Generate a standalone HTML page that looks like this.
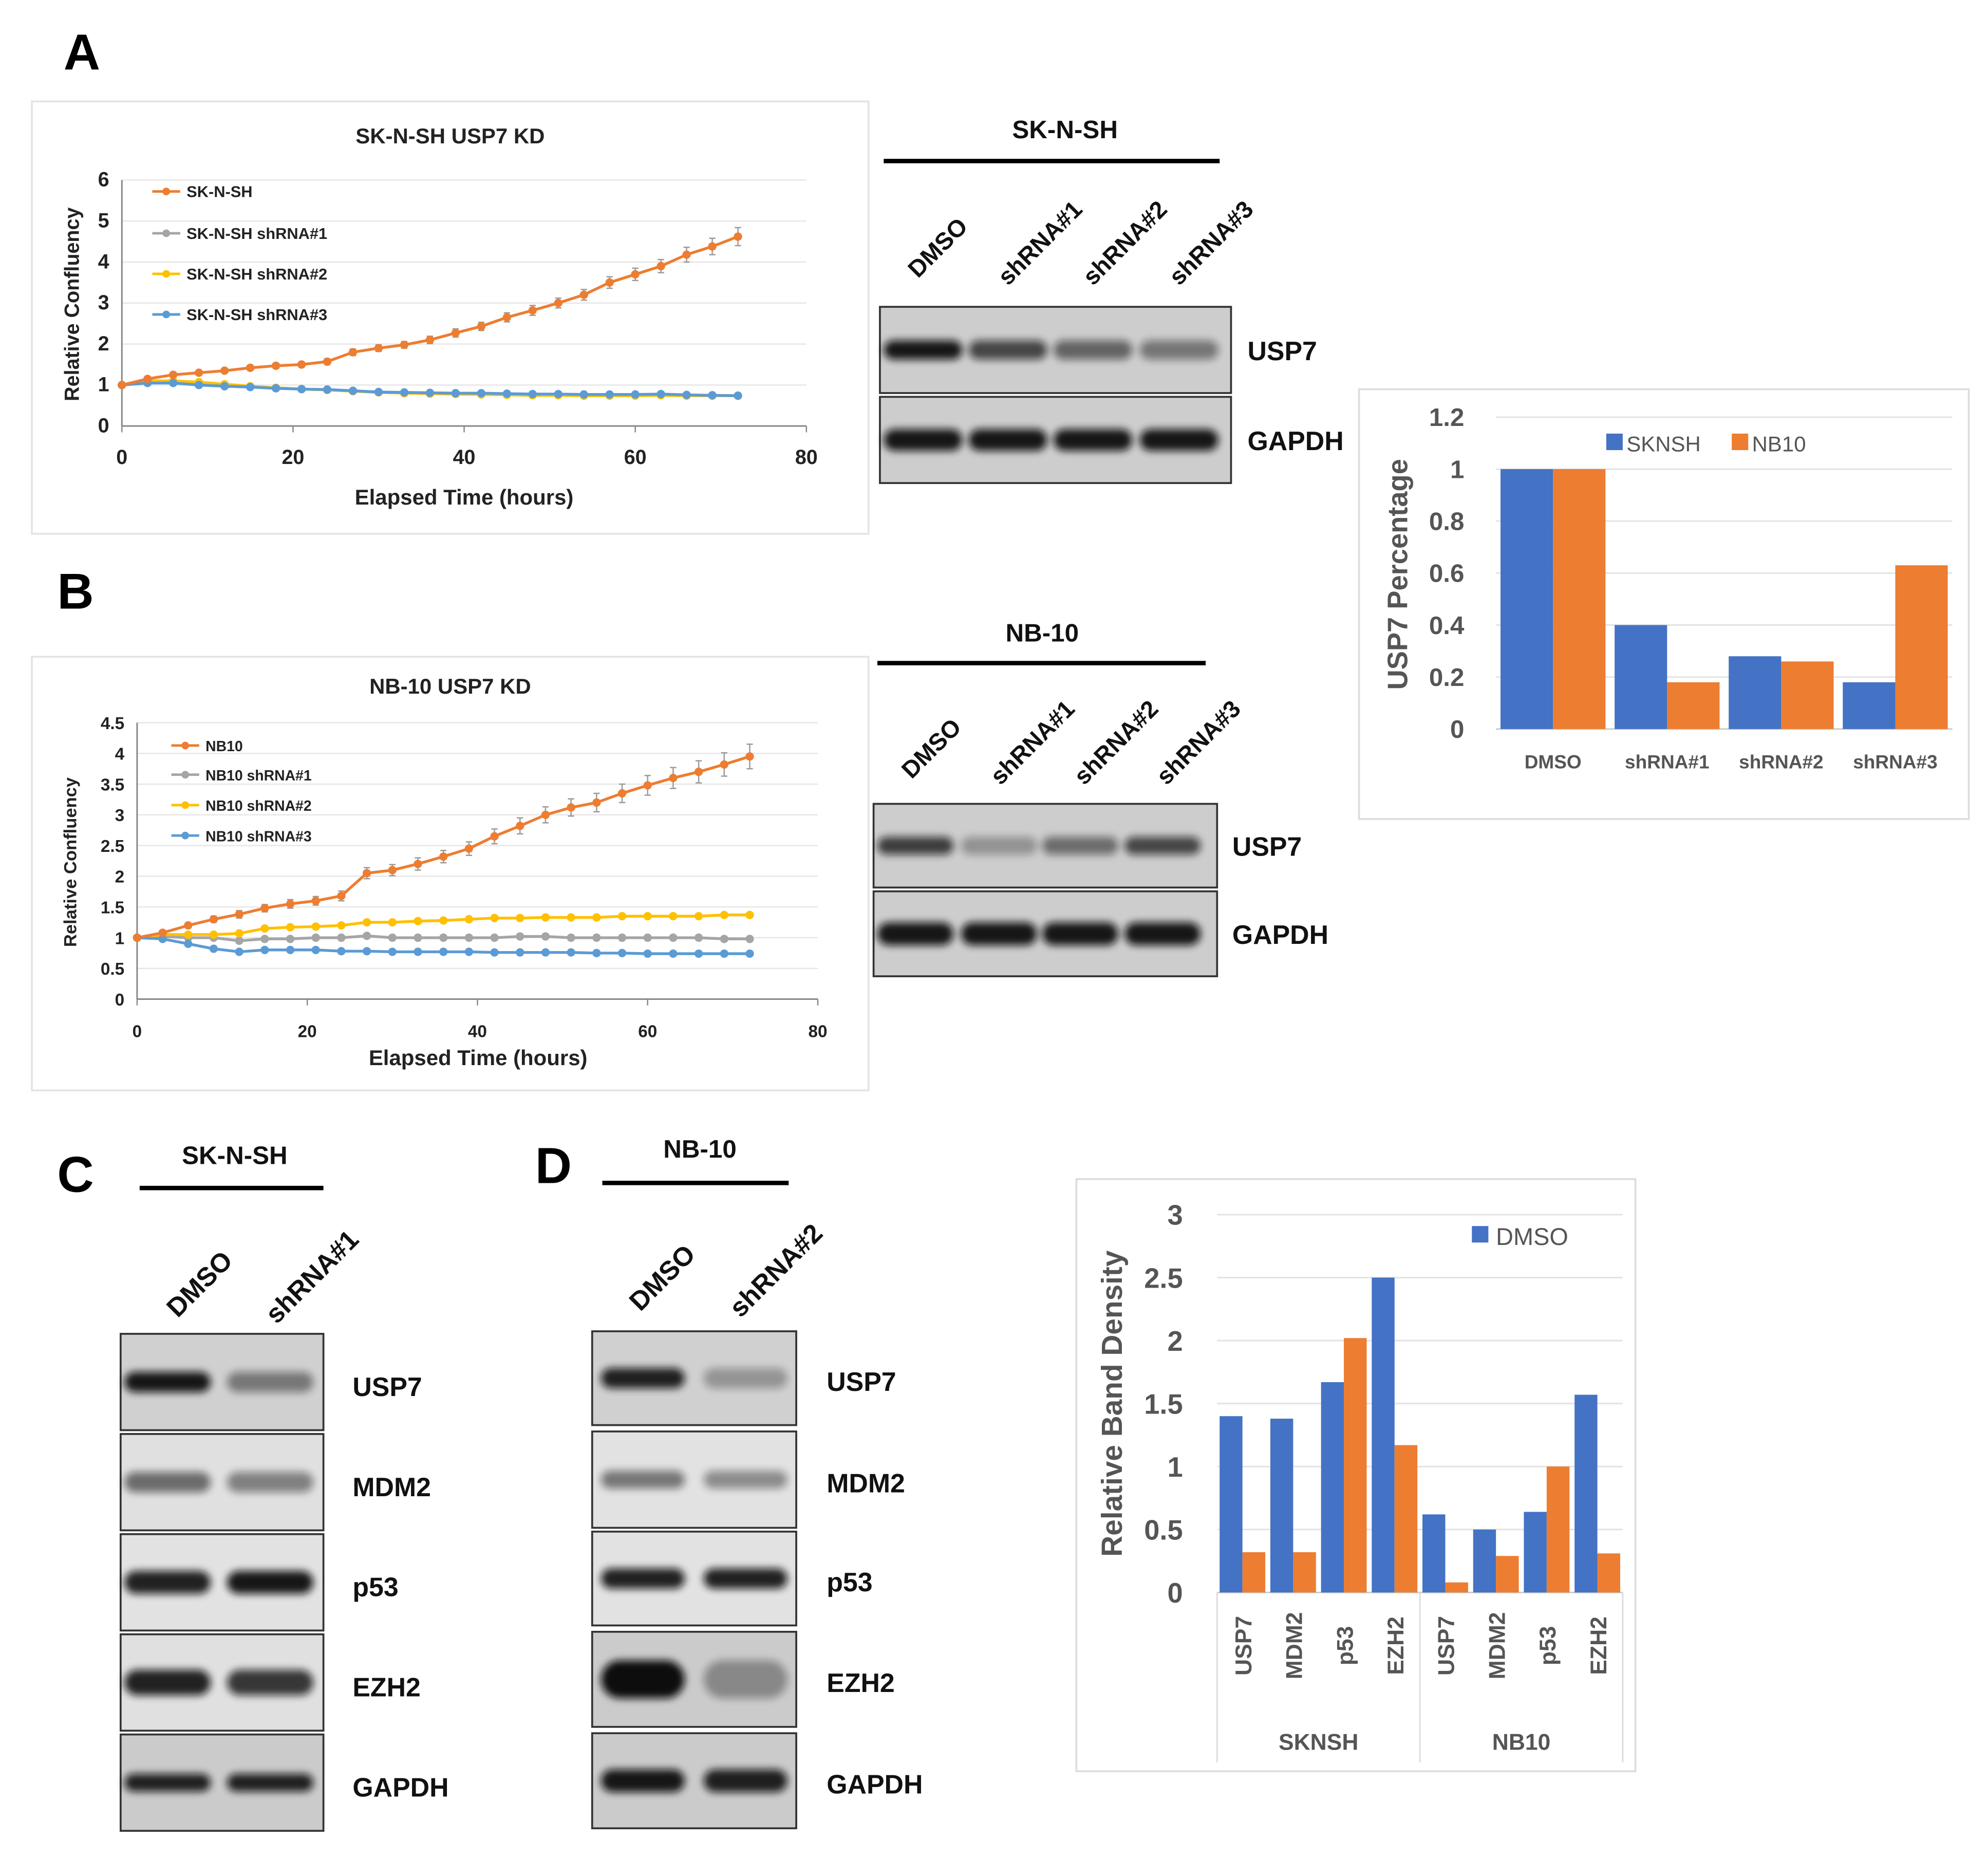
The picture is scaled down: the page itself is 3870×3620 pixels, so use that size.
<!DOCTYPE html>
<html><head><meta charset="utf-8"><style>
html,body{margin:0;padding:0;background:#fff;}
svg{display:block;}
text{font-family:"Liberation Sans",sans-serif;}
</style></head><body>
<svg id="fig" xmlns="http://www.w3.org/2000/svg" width="3870" height="3620" viewBox="0 0 1568 1467">
<defs>
<filter id="blur" x="-20%" y="-100%" width="140%" height="300%"><feGaussianBlur stdDeviation="3"/></filter>
</defs>
<g id="root"></g>
</svg>
<script>
// ---------- DATA ----------
const timeA = [0,3,6,9,12,15,18,21,24,27,30,33,36,39,42,45,48,51,54,57,60,63,66,69,72];
const seriesNamesA = ["SK-N-SH","SK-N-SH shRNA#1","SK-N-SH shRNA#2","SK-N-SH shRNA#3"];
const aParent = [1,1.15,1.25,1.3,1.35,1.42,1.47,1.5,1.57,1.8,1.9,1.98,2.1,2.27,2.43,2.65,2.82,3.0,3.2,3.5,3.7,3.9,4.18,4.38,4.62];
const aSh1 = [1,1.08,1.08,1.03,1.0,0.96,0.93,0.9,0.88,0.85,0.83,0.81,0.8,0.8,0.79,0.78,0.77,0.77,0.76,0.76,0.76,0.76,0.75,0.75,0.74];
const aSh2 = [1,1.1,1.1,1.07,1.02,0.97,0.93,0.9,0.88,0.85,0.82,0.8,0.79,0.78,0.77,0.76,0.75,0.75,0.74,0.74,0.74,0.75,0.74,0.74,0.74];
const aSh3 = [1,1.05,1.05,1.0,0.97,0.95,0.92,0.9,0.89,0.86,0.83,0.82,0.81,0.8,0.8,0.79,0.78,0.78,0.77,0.77,0.77,0.78,0.76,0.75,0.74];
const aErr = [0,0.03,0.04,0.05,0.05,0.06,0.06,0.06,0.07,0.08,0.08,0.08,0.09,0.1,0.1,0.11,0.12,0.12,0.13,0.14,0.15,0.16,0.18,0.2,0.22];
const timeB = [0,3,6,9,12,15,18,21,24,27,30,33,36,39,42,45,48,51,54,57,60,63,66,69,72];
const seriesNamesB = ["NB10","NB10 shRNA#1","NB10 shRNA#2","NB10 shRNA#3"];
const bParent = [1,1.08,1.2,1.3,1.38,1.48,1.55,1.6,1.68,2.05,2.1,2.2,2.32,2.45,2.65,2.82,3.0,3.12,3.2,3.35,3.48,3.6,3.7,3.82,3.95];
const bSh1 = [1,1.02,1.0,1.0,0.95,0.98,0.98,1.0,1.0,1.03,1.0,1.0,1.0,1.0,1.0,1.02,1.02,1.0,1.0,1.0,1.0,1.0,1.0,0.98,0.98];
const bSh2 = [1,1.05,1.05,1.05,1.07,1.15,1.17,1.18,1.2,1.25,1.25,1.27,1.28,1.3,1.32,1.32,1.33,1.33,1.33,1.35,1.35,1.35,1.35,1.37,1.37];
const bSh3 = [1,0.98,0.9,0.82,0.77,0.8,0.8,0.8,0.78,0.78,0.77,0.77,0.77,0.77,0.76,0.76,0.76,0.76,0.75,0.75,0.74,0.74,0.74,0.74,0.74];
const bErr = [0,0.03,0.04,0.05,0.06,0.06,0.07,0.07,0.08,0.09,0.09,0.1,0.1,0.11,0.12,0.13,0.13,0.14,0.15,0.15,0.16,0.17,0.18,0.19,0.2];
const xTicksLine = [0,20,40,60,80];
const yTicksA = [0,1,2,3,4,5,6];
const yTicksB = [0,0.5,1,1.5,2,2.5,3,3.5,4,4.5];

const pctCats = ["DMSO","shRNA#1","shRNA#2","shRNA#3"];
const pctSKNSH = [1,0.4,0.28,0.18];
const pctNB10 = [1,0.18,0.26,0.63];
const pctTicks = [0,0.2,0.4,0.6,0.8,1,1.2];

const densCats = ["USP7","MDM2","p53","EZH2","USP7","MDM2","p53","EZH2"];
const densGroups = ["SKNSH","NB10"];
const densDMSO = [1.4,1.38,1.67,2.5,0.62,0.5,0.64,1.57];
const densShRNA = [0.32,0.32,2.02,1.17,0.08,0.29,1.0,0.31];
const densTicks = [0,0.5,1,1.5,2,2.5,3];

// ---------- helpers ----------
const NS="http://www.w3.org/2000/svg";
const root=document.getElementById('root');
function el(tag,attrs,parent){const e=document.createElementNS(NS,tag);for(const k in attrs)e.setAttribute(k,attrs[k]);(parent||root).appendChild(e);return e;}
function txt(s,x,y,size,attrs,parent){const a=Object.assign({x:x,y:y,'font-size':size,'font-weight':'bold',fill:'#111'},attrs||{});const t=el('text',a,parent);t.textContent=s;return t;}
const ORANGE="#ed7d31",GRAY="#a5a5a5",YELLOW="#ffc000",BLUE="#5b9bd5",BARBLUE="#4472c4";

// ---------- panel letters ----------
[["A",50,55],["B",45,480],["C",45,940],["D",422,933]].forEach(l=>{
  const t=txt(l[0],l[1],l[2],40,{fill:'#000'});
  
  
});

// ---------- line charts ----------
function lineChart(cfg){
  const g=el('g',{});
  
  
  const fr=el('rect',{x:cfg.box[0],y:cfg.box[1],width:cfg.box[2],height:cfg.box[3],fill:'#fff',stroke:'#e4e4e4','stroke-width':1.5},g);
  
  
  const tt=txt(cfg.title,cfg.titleX,cfg.titleY,17,{'text-anchor':'middle',fill:'#222'},g);
  
  
  const X=v=>cfg.x0+(v-0)/80*(cfg.x1-cfg.x0);
  const Y=v=>cfg.y0-(v/cfg.ymax)*(cfg.y0-cfg.y1);
  cfg.yTicks.forEach(v=>{
    if(v>0){const gl=el('line',{x1:X(0),x2:X(80),y1:Y(v),y2:Y(v),stroke:'#e6e6e6','stroke-width':1},g);
      
      }
    const t=txt(String(v),X(0)-10,Y(v)+5,cfg.tickSize,{'text-anchor':'end',fill:'#222'},g);
    
    
  });
  el('line',{x1:X(0),x2:X(0),y1:Y(0),y2:Y(cfg.ymax),stroke:'#888','stroke-width':1.2},g);
  el('line',{x1:X(0),x2:X(80),y1:Y(0),y2:Y(0),stroke:'#888','stroke-width':1.2},g);
  cfg.xTicks.forEach(v=>{
    el('line',{x1:X(v),x2:X(v),y1:Y(0),y2:Y(0)+5,stroke:'#888'},g);
    const t=txt(String(v),X(v),Y(0)+30,cfg.tickSize,{'text-anchor':'middle',fill:'#222'},g);
    
    
  });
  const xl=txt('Elapsed Time (hours)',cfg.xlX,cfg.xlY,17,{'text-anchor':'middle',fill:'#222'},g);
  
  
  const yl=txt('Relative Confluency',0,0,cfg.ylSize,{'text-anchor':'middle',fill:'#222',transform:`translate(${cfg.ylX},${cfg.ylY}) rotate(-90)`},g);
  
  
  const colors=[ORANGE,GRAY,YELLOW,BLUE];
  [1,2,3,0].forEach(si=>{
    const data=cfg.series[si];
    const sg=el('g',{},g);
    
    
    if(si===0){
      cfg.time.forEach((t,i)=>{
        const e=cfg.err[i]; if(e<=0) return;
        el('line',{x1:X(t),x2:X(t),y1:Y(data[i]+e),y2:Y(data[i]-e),stroke:'#999','stroke-width':1},sg);
        el('line',{x1:X(t)-2.5,x2:X(t)+2.5,y1:Y(data[i]+e),y2:Y(data[i]+e),stroke:'#999','stroke-width':1},sg);
        el('line',{x1:X(t)-2.5,x2:X(t)+2.5,y1:Y(data[i]-e),y2:Y(data[i]-e),stroke:'#999','stroke-width':1},sg);
      });
    }
    const pts=cfg.time.map((t,i)=>X(t).toFixed(1)+','+Y(data[i]).toFixed(1)).join(' ');
    el('polyline',{points:pts,fill:'none',stroke:colors[si],'stroke-width':2.2},sg);
    cfg.time.forEach((t,i)=>{
      const c=el('circle',{cx:X(t),cy:Y(data[i]),r:3.3,fill:colors[si]},sg);
      
      
    });
  });
  cfg.names.forEach((n,i)=>{
    const ly=cfg.legY[i];
    const lg=el('g',{},g);
    
    
    el('line',{x1:cfg.legX,x2:cfg.legX+22,y1:ly,y2:ly,stroke:colors[i],'stroke-width':2},lg);
    el('circle',{cx:cfg.legX+11,cy:ly,r:3,fill:colors[i]},lg);
    txt(n,cfg.legX+27,ly+4.5,cfg.legSize,{fill:'#222'},lg);
  });
}
lineChart({name:'line-chart-sknsh',box:[25,80,660,341],title:'SK-N-SH USP7 KD',titleX:355,titleY:113,
  x0:96,x1:636,y0:336,y1:142,ymax:6,yTicks:yTicksA,xTicks:xTicksLine,tickSize:16,
  xlX:366,xlY:398,ylX:62,ylY:240,ylSize:16,time:timeA,series:[aParent,aSh1,aSh2,aSh3],err:aErr,
  names:seriesNamesA,legX:120,legY:[151,184,216,248],legSize:12.5});
lineChart({name:'line-chart-nb10',box:[25,518,660,342],title:'NB-10 USP7 KD',titleX:355,titleY:547,
  x0:108,x1:645,y0:788,y1:570,ymax:4.5,yTicks:yTicksB,xTicks:xTicksLine,tickSize:13.5,
  xlX:377,xlY:840,ylX:60,ylY:680,ylSize:14,time:timeB,series:[bParent,bSh1,bSh2,bSh3],err:bErr,
  names:seriesNamesB,legX:135,legY:[588,611,635,659],legSize:11.5});

// ---------- western blots ----------
function blot(cfg){
  const g=el('g',{});
  
  
  const h=txt(cfg.header,cfg.headerX,cfg.headerY,20,{'text-anchor':'middle',fill:'#111'},g);
  
  
  el('line',{x1:cfg.bar[0],x2:cfg.bar[1],y1:cfg.bar[2],y2:cfg.bar[2],stroke:'#000','stroke-width':3.5},g);
  cfg.lanes.forEach(l=>{
    const t=txt(l[0],0,0,cfg.laneSize,{fill:'#111',transform:`translate(${l[1]},${l[2]}) rotate(-45)`},g);
    
    
  });
  cfg.panels.forEach(p=>{
    const pg=el('g',{},g);
    
    
    el('rect',{x:cfg.x,y:p.y,width:cfg.w,height:p.h,fill:p.bg||'#cdcdcd',stroke:'#333','stroke-width':1.5},pg);
    p.bands.forEach((b,i)=>{
      if(b<=0) return;
      const cx=cfg.laneX[i];
      el('rect',{x:cx-cfg.laneW/2,y:p.y+p.h*0.5-p.bh/2,width:cfg.laneW,height:p.bh,rx:p.bh/2,fill:'#111',opacity:b,filter:'url(#blur)'},pg);
    });
    const t=txt(p.label,cfg.labelX,p.y+p.h/2+8+(cfg.labelDy||0),21,{fill:'#111'},pg);
    
    
  });
}
blot({name:'western-blot-a',header:'SK-N-SH',headerX:840,headerY:109,bar:[697,962,127],laneSize:19,
  lanes:[['DMSO',724,220],['shRNA#1',795,226],['shRNA#2',862,226],['shRNA#3',930,226]],
  x:694,w:277,laneX:[728,795,862,930],laneW:62,labelX:984,
  panels:[{label:'USP7',y:242,h:68,bh:15,bands:[0.95,0.7,0.55,0.45]},{label:'GAPDH',y:313,h:68,bh:17,bands:[0.95,0.95,0.95,0.95]}]});
blot({name:'western-blot-b',header:'NB-10',headerX:822,headerY:506,bar:[692,951,523],laneSize:19,
  lanes:[['DMSO',719,615],['shRNA#1',789,620],['shRNA#2',855,620],['shRNA#3',920,620]],
  x:689,w:271,laneX:[722,788,852,917],laneW:60,labelX:972,
  panels:[{label:'USP7',y:634,h:66,bh:14,bands:[0.75,0.3,0.5,0.7]},{label:'GAPDH',y:703,h:67,bh:18,bands:[0.95,0.95,0.95,0.95]}]});
blot({name:'western-blot-c',header:'SK-N-SH',headerX:185,headerY:918,bar:[110,255,937],laneSize:21,
  lanes:[['DMSO',140,1040],['shRNA#1',218,1045]],
  x:95,w:160,laneX:[132,213],laneW:68,labelX:278,labelDy:3,
  panels:[{label:'USP7',y:1052,h:76,bh:16,bands:[0.95,0.45],bg:'#d0d0d0'},{label:'MDM2',y:1131,h:76,bh:16,bands:[0.55,0.45],bg:'#e0e0e0'},
    {label:'p53',y:1210,h:76,bh:18,bands:[0.9,0.95],bg:'#e2e2e2'},{label:'EZH2',y:1289,h:76,bh:20,bands:[0.9,0.8],bg:'#e0e0e0'},
    {label:'GAPDH',y:1368,h:76,bh:14,bands:[0.9,0.9],bg:'#cbcbcb'}]});
blot({name:'western-blot-d',header:'NB-10',headerX:552,headerY:913,bar:[475,622,933],laneSize:21,
  lanes:[['DMSO',505,1035],['shRNA#2',584,1040]],
  x:467,w:161,laneX:[507,588],laneW:66,labelX:652,labelDy:2,
  panels:[{label:'USP7',y:1050,h:74,bh:16,bands:[0.9,0.3],bg:'#d0d0d0'},{label:'MDM2',y:1129,h:76,bh:14,bands:[0.5,0.4],bg:'#e2e2e2'},
    {label:'p53',y:1208,h:74,bh:16,bands:[0.9,0.9],bg:'#e2e2e2'},{label:'EZH2',y:1287,h:75,bh:30,bands:[1,0.35],bg:'#cbcbcb'},
    {label:'GAPDH',y:1367,h:75,bh:18,bands:[0.95,0.9],bg:'#cbcbcb'}]});

// ---------- USP7 percentage bar chart ----------
(function(){
  const g=el('g',{});
  
  
  el('rect',{x:1072,y:307,width:481,height:339,fill:'#fff',stroke:'#ddd','stroke-width':1.5},g);
  const x0=1180,x1=1540,y0=575,ytop=329,ymax=1.2;
  const Y=v=>y0-v/ymax*(y0-ytop);
  const gw=(x1-x0)/pctCats.length;
  pctTicks.forEach(v=>{
    const gl=el('line',{x1:x0,x2:x1,y1:Y(v),y2:Y(v),stroke:v===0?'#ccc':'#e3e3e3','stroke-width':1.2},g);
    
    
    const t=txt(String(v),1155,Y(v)+7,20,{'text-anchor':'end',fill:'#555'},g);
    
    
  });
  pctCats.forEach((c,i)=>{
    const gx=x0+i*gw, bw=gw*0.46;
    const b1=el('rect',{x:gx+gw*0.04,y:Y(pctSKNSH[i]),width:bw,height:y0-Y(pctSKNSH[i]),fill:BARBLUE},g);
    
    
    const b2=el('rect',{x:gx+gw*0.04+bw,y:Y(pctNB10[i]),width:bw,height:y0-Y(pctNB10[i]),fill:ORANGE},g);
    
    
    const t=txt(c,gx+gw/2,606,15,{'text-anchor':'middle',fill:'#555'},g);
    
    
  });
  const yl=txt('USP7 Percentage',0,0,22,{'text-anchor':'middle',fill:'#555',transform:'translate(1110,453) rotate(-90)'},g);
  
  
  const l1=el('g',{},g);
  
  
  el('rect',{x:1267,y:342,width:13,height:13,fill:BARBLUE},l1);
  txt('SKNSH',1283,356,17,{fill:'#555','font-weight':'normal'},l1);
  const l2=el('g',{},g);
  
  
  el('rect',{x:1366,y:342,width:13,height:13,fill:ORANGE},l2);
  txt('NB10',1382,356,17,{fill:'#555','font-weight':'normal'},l2);
})();

// ---------- relative band density chart ----------
(function(){
  const g=el('g',{});
  
  
  el('rect',{x:849,y:930,width:441,height:467,fill:'#fff',stroke:'#ddd','stroke-width':1.5},g);
  const x0=960,x1=1280,y0=1256,ytop=958,ymax=3;
  const Y=v=>y0-v/ymax*(y0-ytop);
  const gw=(x1-x0)/densCats.length;
  densTicks.forEach(v=>{
    const gl=el('line',{x1:x0,x2:x1,y1:Y(v),y2:Y(v),stroke:v===0?'#ccc':'#e3e3e3','stroke-width':1.2},g);
    
    
    const t=txt(String(v),933,Y(v)+8,22,{'text-anchor':'end',fill:'#555'},g);
    
    
  });
  densCats.forEach((c,i)=>{
    const gx=x0+i*gw, bw=gw*0.45;
    const b1=el('rect',{x:gx+gw*0.05,y:Y(densDMSO[i]),width:bw,height:y0-Y(densDMSO[i]),fill:BARBLUE},g);
    
    
    const b2=el('rect',{x:gx+gw*0.05+bw,y:Y(densShRNA[i]),width:bw,height:y0-Y(densShRNA[i]),fill:ORANGE},g);
    
    
    const t=txt(c,0,0,18,{'text-anchor':'middle',fill:'#555',transform:`translate(${gx+gw/2+7},1298) rotate(-90)`},g);
    
    
  });
  [0,4,8].forEach(k=>el('line',{x1:x0+k*gw,x2:x0+k*gw,y1:y0,y2:1390,stroke:'#ddd','stroke-width':1.2},g));
  densGroups.forEach((n,i)=>{
    const t=txt(n,x0+(i*4+2)*gw,1380,18,{'text-anchor':'middle',fill:'#555'},g);
    
    
  });
  const yl=txt('Relative Band Density',0,0,23,{'text-anchor':'middle',fill:'#555',transform:'translate(885,1107) rotate(-90)'},g);
  
  
  const lg=el('g',{},g);
  
  
  el('rect',{x:1161,y:967,width:13,height:13,fill:BARBLUE},lg);
  txt('DMSO',1180,982,19,{fill:'#555','font-weight':'normal'},lg);
})();
</script>
</body></html>
